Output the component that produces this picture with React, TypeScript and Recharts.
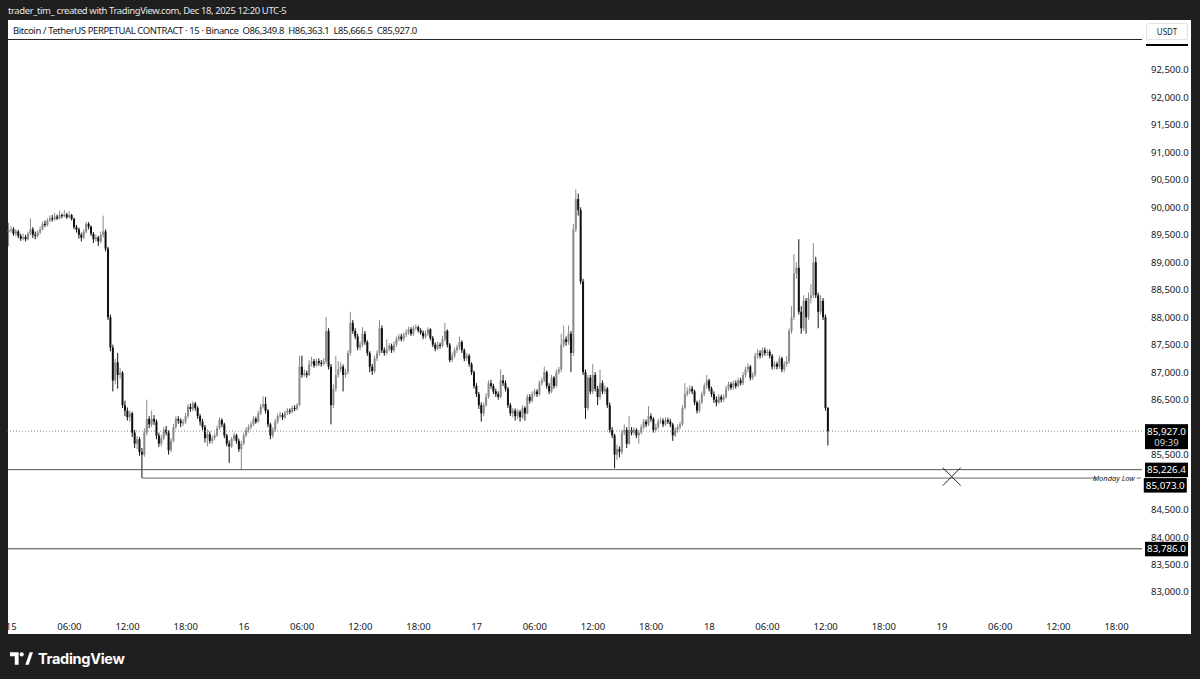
import React from "react";
import { ComposedChart, Bar, XAxis, YAxis, ReferenceLine, ReferenceDot } from "recharts";

// 15m BTCUSDT.P candles, Dec 14 23:45 -> Dec 18 12:15 (UTC-5)
const firstOpen = 89550;

const closes = [
  89590, 89600, 89520, 89560, 89480, 89430, 89460, 89420, 89520, 89600,
  89500, 89480, 89540, 89600, 89700, 89680, 89760, 89800, 89780, 89830,
  89800, 89860, 89840, 89870, 89820, 89860, 89790, 89640, 89600, 89500,
  89450, 89560, 89700, 89650, 89520, 89420, 89450, 89380, 89500, 89560,
  89250, 88000, 87450, 86850, 87180, 86950, 86990, 86400, 86300, 86180,
  86250, 85900, 85700, 85780, 85550, 85500, 85900, 86150, 86050, 86150,
  86100, 85850, 85700, 85800, 85950, 85900, 85580, 85750, 86000, 86150,
  86120, 86070, 86100, 86200, 86370, 86330, 86430, 86350, 86200, 86100,
  86000, 85800, 85870, 85750, 85800, 85850, 85980, 86130, 86050, 85850,
  85700, 85650, 85780, 85850, 85750, 85600, 85700, 85850, 85950, 86000,
  86050, 86150, 86100, 86250, 86370, 86420, 86300, 86050, 85850, 85950,
  86100, 86200, 86220, 86180, 86260, 86300, 86280, 86350, 86330, 86400,
  87100, 86950, 86980, 86950, 87150, 87200, 87120, 87200, 87170, 87150,
  87200, 87750, 87100, 86400, 86700, 86950, 87050, 87100, 86950, 87000,
  87350, 87900, 87750, 87650, 87450, 87500, 87700, 87550, 87350, 87100,
  87020, 87250, 87350, 87800, 87400, 87350, 87420, 87480, 87400, 87500,
  87600, 87650, 87600, 87680, 87720, 87780, 87700, 87800, 87820, 87760,
  87720, 87650, 87700, 87780, 87620, 87500, 87430, 87500, 87480, 87600,
  87750, 87500, 87220, 87300, 87400, 87450, 87550, 87400, 87250, 87300,
  87150, 87000, 86750, 86600, 86400, 86250, 86400, 86550, 86800, 86750,
  86650, 86600, 86550, 86850, 86800, 86700, 86400, 86250, 86300, 86200,
  86280, 86180, 86350, 86250, 86550, 86480, 86600, 86650, 86600, 86800,
  86850, 87000, 86750, 86650, 86900, 86750, 87000, 87050, 87500, 87600,
  87550, 87700, 87350, 89600, 90150, 89950, 88650, 87000, 86350, 86900,
  86650, 86950, 86700, 86550, 86800, 86650, 86700, 86400, 85950, 85850,
  85500, 85600, 85550, 85900, 85950, 85700, 85950, 85900, 85950, 85850,
  85900, 86000, 86100, 86050, 86200, 86150, 85950, 86000, 86100, 86120,
  86050, 86130, 86100, 86050, 85850, 85950, 86000, 86050, 86350, 86600,
  86650, 86700, 86650, 86450, 86300, 86450, 86600, 86750, 86850, 86700,
  86600, 86500, 86450, 86550, 86500, 86550, 86700, 86780, 86720, 86800,
  86750, 86850, 86800, 86950, 87050, 87100, 86900, 86950, 87300, 87350,
  87300, 87400, 87350, 87370, 87300, 87100, 87150, 87100, 87250, 87050,
  87150, 87200, 87750, 88000, 88800, 88900, 88100, 87800, 88300, 88000,
  88350, 88400, 89000, 88400, 88100, 88300, 88000, 86350, 85927,
];

const highs = [
  89720, 89660, 89640, 89610, 89590, 89520, 89520, 89500, 89560, 89800,
  89640, 89560, 89580, 89650, 89740, 89760, 89800, 89850, 89860, 89900,
  89870, 89940, 89890, 89950, 89900, 89930, 89880, 89810, 89680, 89630,
  89540, 89600, 89740, 89730, 89670, 89550, 89500, 89480, 89560, 89850,
  89600, 89280, 88050, 87500, 87250, 87350, 87080, 87020, 86480, 86360,
  86300, 86280, 85950, 85840, 85820, 85620, 85980, 86500, 86200, 86300,
  86220, 86140, 85900, 85860, 86000, 86020, 85940, 85800, 86060, 86200,
  86200, 86160, 86150, 86260, 86420, 86430, 86470, 86460, 86380, 86240,
  86150, 86040, 85960, 85920, 85850, 85900, 86030, 86180, 86160, 86080,
  85880, 85760, 85820, 85900, 85880, 85790, 85750, 85900, 86000, 86050,
  86100, 86200, 86190, 86300, 86420, 86560, 86550, 86330, 86080, 86000,
  86150, 86250, 86280, 86260, 86300, 86350, 86340, 86390, 86400, 86440,
  87300, 87300, 87050, 87030, 87220, 87280, 87240, 87250, 87250, 87220,
  87260, 88000, 87800, 87150, 86780, 87300, 87200, 87180, 87140, 87060,
  87400, 88100, 87950, 87800, 87700, 87560, 87820, 87750, 87580, 87380,
  87150, 87300, 87400, 87950, 87850, 87450, 87600, 87530, 87520, 87560,
  87650, 87700, 87700, 87720, 87780, 87830, 87820, 87850, 87870, 87850,
  87800, 87760, 87760, 87820, 87800, 87660, 87540, 87560, 87540, 87660,
  87900, 87780, 87530, 87360, 87450, 87500, 87650, 87580, 87430, 87350,
  87330, 87180, 87030, 86800, 86640, 86450, 86450, 86620, 86850, 86860,
  86790, 86700, 86650, 87050, 86950, 86850, 86730, 86440, 86350, 86340,
  86330, 86310, 86400, 86380, 86600, 86600, 86650, 86700, 86690, 86850,
  86900, 87100, 87030, 86800, 86950, 86930, 87050, 87100, 87700, 87850,
  87650, 87850, 87750, 89700, 90330, 90250, 90000, 88700, 87050, 86950,
  86950, 87150, 87000, 86750, 87050, 86850, 86760, 86730, 86450, 86000,
  85880, 85680, 85650, 85950, 86050, 86000, 86200, 86000, 86000, 85980,
  85950, 86050, 86150, 86140, 86380, 86250, 86180, 86060, 86150, 86180,
  86160, 86180, 86170, 86150, 86080, 86000, 86050, 86100, 86400, 86800,
  86720, 86760, 86750, 86680, 86480, 86500, 86650, 86800, 86950, 86880,
  86740, 86650, 86560, 86600, 86590, 86600, 86750, 86830, 86820, 86850,
  86850, 86900, 86900, 87000, 87100, 87160, 87130, 87000, 87350, 87420,
  87400, 87450, 87450, 87420, 87410, 87330, 87200, 87190, 87300, 87280,
  87200, 87300, 87800, 88200, 89150, 89000, 89420, 88200, 88400, 88350,
  88450, 88600, 89350, 89100, 88450, 88400, 88350, 88050, 86363,
];

const lows = [
  89290, 89540, 89480, 89470, 89440, 89390, 89400, 89380, 89400, 89490,
  89440, 89420, 89450, 89510, 89580, 89640, 89650, 89730, 89740, 89760,
  89770, 89780, 89800, 89820, 89790, 89800, 89760, 89600, 89540, 89430,
  89380, 89420, 89530, 89600, 89480, 89350, 89380, 89300, 89350, 89450,
  89200, 87950, 87380, 86650, 86780, 86700, 86880, 86350, 86200, 86120,
  86100, 85820, 85620, 85600, 85480, 85073, 85460, 85850, 85980, 86000,
  86040, 85780, 85640, 85650, 85760, 85850, 85500, 85540, 85720, 85960,
  86060, 86000, 86020, 86060, 86160, 86280, 86290, 86300, 86150, 86030,
  85950, 85720, 85650, 85700, 85700, 85760, 85820, 85950, 86000, 85800,
  85650, 85350, 85620, 85740, 85700, 85550, 85220, 85670, 85820, 85900,
  85960, 86020, 86060, 86080, 86220, 86340, 86250, 86000, 85780, 85800,
  85920, 86060, 86160, 86130, 86150, 86220, 86240, 86250, 86290, 86300,
  86380, 86900, 86920, 86900, 86930, 87100, 87080, 87100, 87120, 87100,
  87120, 87150, 87050, 86050, 86350, 86650, 86900, 87000, 86650, 86900,
  86960, 87300, 87700, 87600, 87400, 87400, 87460, 87500, 87300, 87000,
  86950, 86980, 87200, 87300, 87350, 87300, 87320, 87380, 87350, 87360,
  87460, 87560, 87560, 87560, 87640, 87680, 87660, 87660, 87760, 87720,
  87680, 87600, 87610, 87660, 87580, 87460, 87380, 87400, 87430, 87450,
  87560, 87450, 87180, 87180, 87260, 87350, 87400, 87350, 87200, 87200,
  87100, 86950, 86700, 86550, 86330, 86100, 86200, 86370, 86520, 86700,
  86600, 86550, 86500, 86520, 86750, 86650, 86350, 86200, 86180, 86120,
  86150, 86100, 86150, 86120, 86230, 86430, 86450, 86560, 86550, 86570,
  86760, 86820, 86700, 86600, 86620, 86700, 86720, 86960, 87000, 87450,
  87480, 87500, 87000, 87300, 89550, 89850, 88600, 86950, 86150, 86300,
  86600, 86600, 86650, 86400, 86500, 86600, 86600, 86350, 85900, 85800,
  85250, 85400, 85450, 85500, 85850, 85620, 85680, 85850, 85860, 85800,
  85700, 85870, 85960, 86000, 86020, 86100, 85900, 85900, 85960, 86060,
  86000, 86020, 86060, 86000, 85750, 85820, 85900, 85960, 86020, 86320,
  86560, 86600, 86600, 86400, 86250, 86260, 86420, 86560, 86700, 86650,
  86550, 86440, 86380, 86420, 86450, 86460, 86520, 86660, 86680, 86680,
  86700, 86720, 86760, 86760, 86900, 87000, 86850, 86860, 86920, 87250,
  87250, 87260, 87300, 87300, 87250, 87050, 87060, 87050, 87060, 87000,
  87000, 87100, 87150, 87700, 87950, 88700, 88050, 87700, 87750, 87700,
  87950, 88250, 88350, 88350, 87800, 88050, 87950, 86300, 85666,
];

// time scale runs on to Dec 19 ~20:30, empty slots after the last candle
const totalSlots = 468;
const timeLabels = [
  "15", "06:00", "12:00", "18:00", "16", "06:00", "12:00", "18:00",
  "17", "06:00", "12:00", "18:00", "18", "06:00", "12:00", "18:00",
  "19", "06:00", "12:00", "18:00",
];
const priceTicks = [
  83000, 83500, 84000, 84500, 85500, 86500, 87000, 87500, 88000,
  88500, 89000, 89500, 90000, 90500, 91000, 91500, 92000, 92500,
];
const priceDomain = [82636, 93082];

// drawn levels
const lastPrice = 85927.0;
const levelA = 85226.4;
const mondayLow = 85073.0;
const levelB = 83786.0;
const topLine = 93055;
const mondayLowIdx = 55;
const markIdx = 389;
const markPrice = 85100;

const rows: any[] = [];
for (let i = 0; i < totalSlots; i++) {
  if (i < closes.length) {
    rows.push({ i, o: i === 0 ? firstOpen : closes[i - 1], h: highs[i], l: lows[i], c: closes[i] });
  } else {
    rows.push({ i });
  }
}
const timeTicks = timeLabels.map((_, k) => 1 + k * 24);

const FONT = "'Noto Sans', 'Open Sans', sans-serif";
const fmt = (v: number) => v.toLocaleString("en-US", { minimumFractionDigits: 1, maximumFractionDigits: 1 });

const Candle = (p: any) => {
  const { x, y, width, height, payload } = p;
  if (!payload || payload.h === undefined) return null;
  const top = Math.min(y, y + height);
  const bot = Math.max(y, y + height);
  const k = (bot - top) / (payload.h - payload.l);
  const yO = top + (payload.h - payload.o) * k;
  const yC = top + (payload.h - payload.c) * k;
  const cx = x + width / 2;
  const col = payload.c >= payload.o ? "#8a8a8a" : "#111111";
  return (
    <g>
      <line x1={cx} x2={cx} y1={top} y2={bot} stroke={col} strokeWidth={1} />
      <rect x={cx - 1} y={Math.min(yO, yC)} width={2} height={Math.max(1, Math.abs(yC - yO))} fill={col} />
    </g>
  );
};

const PriceTick = ({ x, y, payload }: any) => (
  <text x={x + 7} y={y + 3.5} fontSize={9.5} fill="#131722" fontFamily={FONT}>
    {fmt(payload.value)}
  </text>
);

const TimeTick = ({ x, y, payload }: any) => (
  <text x={x} y={y + 15.5} fontSize={9.5} fill="#131722" textAnchor="middle" fontFamily={FONT}>
    {timeLabels[timeTicks.indexOf(payload.value)]}
  </text>
);

const Tag = ({ viewBox, text, sub, shift = 0 }: any) => {
  if (!viewBox) return null;
  const x = viewBox.x + viewBox.width + 3;
  const cy = viewBox.y + shift;
  return (
    <g fontFamily={FONT}>
      <rect x={x} y={cy - 7} width={43} height={sub ? 25 : 14.5} fill="#000" />
      <text x={x + 21.5} y={cy + 3.6} textAnchor="middle" fill="#fff" fontSize={9.8}>{text}</text>
      {sub ? (
        <text x={x + 21.5} y={cy + 14.6} textAnchor="middle" fill="#d6d6d6" fontSize={9.5}>{sub}</text>
      ) : null}
    </g>
  );
};

const MondayTag = (props: any) => {
  const { viewBox } = props;
  if (!viewBox) return null;
  const xe = viewBox.x + viewBox.width;
  return (
    <g>
      <rect x={xe - 44} y={viewBox.y - 5} width={40} height={10} fill="#fff" />
      <text x={xe - 6} y={viewBox.y + 2.5} fontSize={7.5} fontStyle="italic" textAnchor="end" fill="#131722" fontFamily={FONT}>
        Monday Low
      </text>
      <Tag viewBox={viewBox} text={fmt(mondayLow)} shift={7} />
    </g>
  );
};

const Cross = ({ cx, cy }: any) => (
  <g stroke="#222" strokeWidth={1}>
    <line x1={cx - 9} y1={cy - 9} x2={cx + 9} y2={cy + 9} />
    <line x1={cx - 9} y1={cy + 9} x2={cx + 9} y2={cy - 9} />
  </g>
);

export default function App() {
  return (
    <div style={{ position: "absolute", left: 0, top: 0, width: 1200, height: 679, background: "#1f1f1f", overflow: "hidden" }}>
      <div style={{ position: "absolute", left: 8, top: 20, width: 1183, height: 614, background: "#fff" }} />
      <ComposedChart
        width={1200}
        height={679}
        data={rows}
        margin={{ top: 38, right: 10, bottom: 42, left: 7.6 }}
        barCategoryGap={0}
        style={{ position: "absolute", left: 0, top: 0 }}
      >
        <XAxis
          dataKey="i"
          type="category"
          ticks={timeTicks}
          interval={0}
          tick={<TimeTick />}
          axisLine={false}
          tickLine={false}
          tickSize={0}
          height={25}
        />
        <YAxis
          orientation="right"
          type="number"
          domain={priceDomain}
          allowDataOverflow
          ticks={priceTicks}
          interval={0}
          tick={<PriceTick />}
          axisLine={false}
          tickLine={false}
          tickSize={0}
          width={48}
        />
        <ReferenceLine y={topLine} stroke="#222" strokeWidth={1} />
        <ReferenceLine y={lastPrice} stroke="#8a8a8a" strokeDasharray="1 2" label={<Tag text={fmt(lastPrice)} sub="09:39" />} />
        <ReferenceLine y={levelA} stroke="#555" strokeWidth={1} label={<Tag text={fmt(levelA)} />} />
        <ReferenceLine
          segment={[{ x: mondayLowIdx, y: mondayLow }, { x: totalSlots - 1, y: mondayLow }]}
          stroke="#666"
          strokeWidth={1}
          label={<MondayTag />}
        />
        <ReferenceLine y={levelB} stroke="#444" strokeWidth={1} label={<Tag text={fmt(levelB)} />} />
        <Bar dataKey={(d: any) => (d.h === undefined ? null : [d.l, d.h])} shape={<Candle />} isAnimationActive={false} />
        <ReferenceDot x={markIdx} y={markPrice} r={9} shape={<Cross />} />
      </ComposedChart>

      <div style={{ position: "absolute", left: 8, top: 4, fontFamily: FONT, fontSize: 9.5, letterSpacing: -0.4, color: "#e6e6e6", whiteSpace: "nowrap" }}>
        trader_tim_ created with TradingView.com, Dec 18, 2025 12:20 UTC-5
      </div>
      <div style={{ position: "absolute", left: 13, top: 24, fontFamily: FONT, fontSize: 9.5, letterSpacing: -0.4, color: "#131722", whiteSpace: "nowrap" }}>
        Bitcoin / TetherUS PERPETUAL CONTRACT · 15 · Binance&nbsp; O86,349.8&nbsp; H86,363.1&nbsp; L85,666.5&nbsp; C85,927.0
      </div>
      <div style={{ position: "absolute", left: 1146, top: 44, width: 42, height: 2, background: "#000" }} />
      <div
        style={{
          position: "absolute", left: 1146, top: 23, width: 42, height: 17, background: "#fff",
          border: "1px solid #e0e3eb", borderRadius: 2, boxSizing: "border-box",
          fontFamily: FONT, fontSize: 8, color: "#131722", textAlign: "center", lineHeight: "15px",
        }}
      >
        USDT
      </div>
      <div style={{ position: "absolute", left: 10, top: 650, display: "flex", alignItems: "center", gap: 5 }}>
        <svg width={23} height={14} viewBox="0 0 24 14">
          <path d="M0 0 H9 V13 H5 V4 H0 Z" fill="#fff" />
          <circle cx={12.2} cy={2.2} r={2.2} fill="#fff" />
          <path d="M16 13 L20.5 0 H24 L19.5 13 Z" fill="#fff" />
        </svg>
        <span style={{ fontFamily: "Inter, 'Noto Sans', sans-serif", fontWeight: 700, fontSize: 14.5, color: "#fff", letterSpacing: -0.3 }}>
          TradingView
        </span>
      </div>
    </div>
  );
}
